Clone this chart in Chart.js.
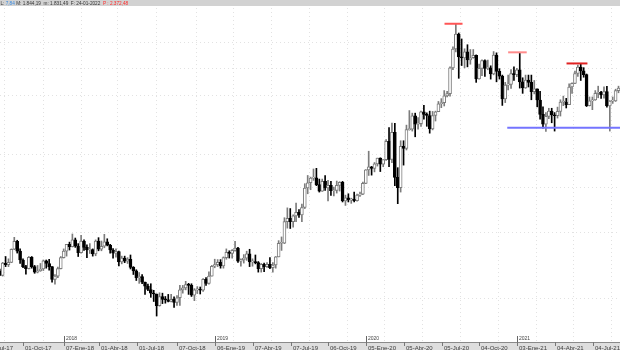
<!DOCTYPE html>
<html>
<head>
<meta charset="utf-8">
<script src="https://cdn.jsdelivr.net/npm/chart.js@4/dist/chart.umd.min.js"></script>
<style>
  html, body { margin: 0; padding: 0; background: #fff; }
  #wrap { position: relative; width: 620px; height: 350px; }
</style>
</head>
<body>
<div id="wrap"><canvas id="chart" width="620" height="350"></canvas></div>
<script>
// weekly candles, first one is the week of 30-Jul-17 (week 0 = week of 01-Oct-17)
const firstWeek = -9;

const open = [
  1269,1258,1289,1285,1291,1325,1346,1320,1297,1280,1275,1304,1280,1266,1269,1274,1295,1288,1280,1248,1256,1275,
  1303,1320,1338,1332,1350,1333,1316,1347,1330,1323,1324,1313,1347,1325,1333,1345,1336,1323,1315,1319,1292,1302,1294,1299,1278,1269,1252,1255,1241,1231,1223,1214,1212,1184,1206,1199,1198,1194,1199,1192,1203,1222,1227,1235,1233,1209,1222,1222,1221,1248,1238,1256,
  1281,1285,1291,1282,1303,1317,1314,1322,1328,1294,1298,1302,1313,1292,1292,1290,1275,1286,1280,1286,1277,1284,1305,1341,1341,1400,1409,1400,1416,1426,1419,1440,1497,1513,1527,1528,1507,1488,1517,1497,1505,1489,1490,1505,1514,1459,1468,1462,1464,1460,1476,1479,
  1511,1552,1562,1557,1571,1589,1570,1584,1643,1585,1673,1529,1498,1627,1620,1682,1683,1729,1700,1702,1743,1734,1730,1684,1730,1743,1771,1775,1799,1807,1902,1975,2035,1944,1940,1964,1933,1941,1950,1861,1900,1930,1900,1902,1879,1951,1889,1871,1788,1838,1840,1881,1877,
  1895,1850,1828,1856,1848,1814,1824,1784,1734,1700,1727,1745,1732,1729,1744,1777,1777,1768,1831,1844,1881,1905,1891,1877,1764,1781,1784,1808,1812,1802,1814,1763,1780,1781,1818
];
const high = [
  1274,1291,1306,1300,1326,1357,1349,1326,1300,1283,1306,1306,1283,1283,1288,1297,1297,1299,1280,1260,1279,1306,
  1326,1338,1344,1366,1355,1340,1362,1350,1337,1340,1326,1350,1356,1347,1365,1353,1338,1327,1326,1320,1307,1307,1303,1310,1280,1272,1265,1260,1241,1236,1237,1221,1212,1215,1214,1206,1211,1211,1205,1208,1233,1233,1243,1238,1237,1225,1230,1229,1250,1252,1267,1283,
  1299,1298,1298,1305,1326,1321,1324,1346,1330,1300,1311,1320,1325,1300,1310,1293,1288,1289,1290,1303,1290,1306,1348,1358,1411,1439,1437,1419,1453,1434,1450,1510,1535,1530,1555,1557,1524,1524,1535,1520,1517,1500,1518,1516,1517,1476,1480,1467,1485,1479,1485,1515,
  1553,1611,1563,1575,1589,1590,1584,1649,1689,1704,1703,1559,1645,1645,1697,1747,1738,1738,1723,1745,1765,1739,1745,1744,1745,1779,1789,1818,1815,1906,1984,2075,2039,2015,1976,1992,1973,1973,1952,1917,1933,1933,1932,1910,1965,1960,1899,1875,1848,1875,1896,1906,1900,
  1959,1865,1875,1875,1875,1855,1824,1815,1760,1740,1755,1755,1740,1759,1785,1798,1790,1843,1846,1890,1913,1916,1903,1879,1795,1795,1818,1834,1815,1832,1833,1782,1795,1823,1834
];
const low = [
  1258,1256,1280,1280,1290,1324,1315,1288,1277,1261,1274,1276,1263,1264,1268,1270,1276,1271,1241,1236,1252,1274,
  1302,1307,1323,1331,1330,1306,1315,1322,1303,1314,1307,1308,1321,1321,1329,1334,1315,1302,1304,1282,1287,1290,1288,1274,1260,1245,1238,1237,1211,1220,1204,1194,1160,1183,1189,1190,1193,1193,1180,1185,1185,1214,1222,1211,1206,1196,1213,1212,1218,1233,1236,1256,
  1277,1280,1276,1276,1299,1302,1302,1320,1291,1281,1289,1296,1280,1281,1287,1266,1266,1267,1278,1275,1266,1276,1305,1322,1340,1382,1381,1385,1400,1412,1400,1437,1480,1492,1520,1504,1485,1487,1490,1459,1475,1474,1482,1488,1456,1446,1456,1452,1456,1458,1472,1477,
  1510,1535,1536,1546,1564,1547,1562,1582,1562,1575,1504,1451,1485,1567,1615,1680,1677,1658,1683,1693,1717,1693,1670,1681,1711,1743,1757,1763,1795,1798,1895,1964,1863,1911,1902,1906,1916,1939,1848,1860,1873,1870,1895,1860,1876,1850,1860,1765,1775,1820,1826,1855,1869,
  1827,1808,1826,1831,1785,1806,1760,1717,1687,1676,1719,1705,1677,1721,1728,1764,1756,1768,1808,1843,1870,1855,1867,1761,1763,1750,1783,1792,1790,1791,1759,1677,1772,1779,1810
];
const close = [
  1258,1289,1285,1291,1325,1346,1320,1297,1280,1275,1304,1280,1266,1269,1274,1295,1288,1280,1248,1256,1275,1303,
  1320,1338,1332,1350,1333,1316,1347,1330,1323,1324,1313,1347,1325,1333,1345,1336,1323,1315,1319,1292,1302,1294,1299,1278,1269,1252,1255,1241,1231,1223,1214,1212,1184,1206,1199,1198,1194,1199,1192,1203,1222,1227,1235,1233,1209,1222,1222,1221,1248,1238,1256,1281,
  1285,1291,1282,1303,1317,1314,1322,1328,1294,1298,1302,1313,1292,1292,1290,1275,1286,1280,1286,1277,1284,1305,1341,1341,1400,1409,1400,1416,1426,1419,1440,1497,1513,1527,1528,1507,1488,1517,1497,1505,1489,1490,1505,1514,1459,1468,1462,1464,1460,1476,1479,1511,
  1552,1562,1557,1571,1589,1570,1584,1643,1585,1673,1529,1498,1627,1620,1682,1683,1729,1700,1702,1743,1734,1730,1684,1730,1743,1771,1775,1799,1807,1902,1975,2035,1944,1940,1964,1933,1941,1950,1861,1900,1930,1900,1902,1879,1951,1889,1871,1788,1838,1840,1881,1877,1895,
  1850,1828,1856,1848,1814,1824,1784,1734,1700,1727,1745,1732,1729,1744,1777,1777,1768,1831,1844,1881,1905,1891,1877,1764,1781,1784,1808,1812,1802,1814,1763,1780,1781,1818,1827
];

// axis labels (week numbers of the first week of each quarter)
const tickWeeks = [-13, 0, 14, 26, 39, 53, 66, 79, 92, 105, 118, 131, 144, 157, 170, 183, 196];
const tickLabels = ['02-Jul-17','01-Oct-17','07-Ene-18','01-Abr-18','01-Jul-18','07-Oct-18','06-Ene-19',
  '07-Abr-19','07-Jul-19','06-Oct-19','05-Ene-20','05-Abr-20','05-Jul-20','04-Oct-20','03-Ene-21','04-Abr-21','04-Jul-21'];
const yearWeeks = [14, 66, 118, 170];
const yearLabels = ['2018', '2019', '2020', '2021'];
const gridPrices = [2000, 1900, 1800, 1600, 1500, 1369, 1200];

// drawn levels
const resistFrom = [145.0, 166.9, 187.0];
const resistTo = [151.2, 173.3, 194.2];
const resistPrice = [2077, 1962, 1919];
const supportFrom = 166.6, supportTo = 206.0, supportPrice = 1688;

const headerParts = [
  ['L: ', '#333'], ['7,84', '#3a8be0'], [' M: 1.844,19  m: 1.831,49  F: 24-01-2022  ', '#333'], ['P : 2.372,48', '#ff2b2b']
];

// candle sits a bit right of the week's label tick
const shift = 0.9;

const upCol = '#7c7c7c';
const isUp = open.map((o, i) => close[i] >= o);
const wicks = low.map((l, i) => ({ x: firstWeek + i + shift, y: [l, high[i]] }));
const bodies = open.map((o, i) => ({ x: firstWeek + i + shift, y: [o, close[i]] }));

const resistColors = ['#ff5555', '#ff8b8b', '#e02222'];
const levelSets = resistPrice.map((p, i) => ({
  type: 'line',
  data: [{ x: resistFrom[i], y: p }, { x: resistTo[i], y: p }],
  borderColor: resistColors[i],
  borderWidth: 2,
  pointRadius: 0,
  order: 0
}));
levelSets.push({
  type: 'line',
  data: [{ x: supportFrom, y: supportPrice }, { x: supportTo, y: supportPrice }],
  borderColor: '#7474ff',
  borderWidth: 2,
  pointRadius: 0,
  order: 0
});

const chartFont = '"Liberation Sans", Arial, sans-serif';

const frame = {
  id: 'frame',
  afterDraw(chart) {
    const ctx = chart.ctx;
    const xs = chart.scales.x;
    const bottom = chart.chartArea.bottom;
    ctx.save();
    // bottom axis band
    ctx.fillStyle = '#dedede';
    ctx.fillRect(0, bottom, 620, 350 - bottom);
    ctx.fillStyle = '#8a8a8a';
    ctx.fillRect(0, bottom, 620, 1);
    ctx.font = '6px ' + chartFont;
    ctx.textBaseline = 'alphabetic';
    ctx.textAlign = 'left';
    tickWeeks.forEach((w, i) => {
      const x = Math.round(xs.getPixelForValue(w)) + 0.5;
      ctx.strokeStyle = '#777';
      ctx.lineWidth = 1;
      ctx.beginPath();
      ctx.moveTo(x, bottom);
      ctx.lineTo(x, bottom + 4);
      ctx.stroke();
      ctx.fillStyle = '#3c3c3c';
      ctx.fillText(tickLabels[i], x + 1.5, bottom + 7.5);
    });
    ctx.font = '5px ' + chartFont;
    yearWeeks.forEach((w, i) => {
      const x = Math.round(xs.getPixelForValue(w)) + 0.5;
      ctx.strokeStyle = '#666';
      ctx.beginPath();
      ctx.moveTo(x, bottom - 6);
      ctx.lineTo(x, bottom);
      ctx.stroke();
      ctx.fillStyle = '#444';
      ctx.fillText(yearLabels[i], x + 1.5, bottom - 2);
    });
    // top info band
    ctx.fillStyle = '#d2d2d2';
    ctx.fillRect(0, 0, 620, 6);
    ctx.font = '4.7px ' + chartFont;
    let tx = 0.5;
    headerParts.forEach(([t, c]) => {
      ctx.fillStyle = c;
      ctx.fillText(t, tx, 5);
      tx += ctx.measureText(t).width;
    });
    ctx.restore();
  }
};

new Chart(document.getElementById('chart'), {
  data: {
    datasets: [
      ...levelSets,
      {
        type: 'bar',
        data: bodies,
        backgroundColor: isUp.map(u => u ? '#ffffff' : '#000000'),
        borderColor: isUp.map(u => u ? upCol : '#000000'),
        borderWidth: 1,
        borderSkipped: false,
        barThickness: 3,
        minBarLength: 1,
        grouped: false,
        order: 1
      },
      {
        type: 'bar',
        data: wicks,
        backgroundColor: isUp.map(u => u ? upCol : '#000000'),
        borderWidth: 0,
        barThickness: 1,
        grouped: false,
        order: 2
      }
    ]
  },
  options: {
    responsive: false,
    animation: false,
    devicePixelRatio: 1,
    events: [],
    layout: { padding: 0 },
    plugins: { legend: { display: false }, tooltip: { enabled: false } },
    scales: {
      x: {
        type: 'linear',
        min: -8.02,
        max: 205.41,
        offset: false,
        afterBuildTicks: s => { s.ticks = tickWeeks.map(v => ({ value: v })); },
        afterFit: s => { s.height = 8; },
        ticks: { display: false },
        grid: { color: '#e2e2e2', drawTicks: false },
        border: { display: false, dash: [1, 3] }
      },
      y: {
        type: 'logarithmic',
        min: 1101.4,
        max: 2177.7,
        afterBuildTicks: s => { s.ticks = gridPrices.map(v => ({ value: v })); },
        afterFit: s => { s.width = 0; },
        ticks: { display: false },
        grid: { color: '#e2e2e2', drawTicks: false },
        border: { display: false, dash: [1, 3] }
      }
    }
  },
  plugins: [frame]
});
</script>
</body>
</html>
